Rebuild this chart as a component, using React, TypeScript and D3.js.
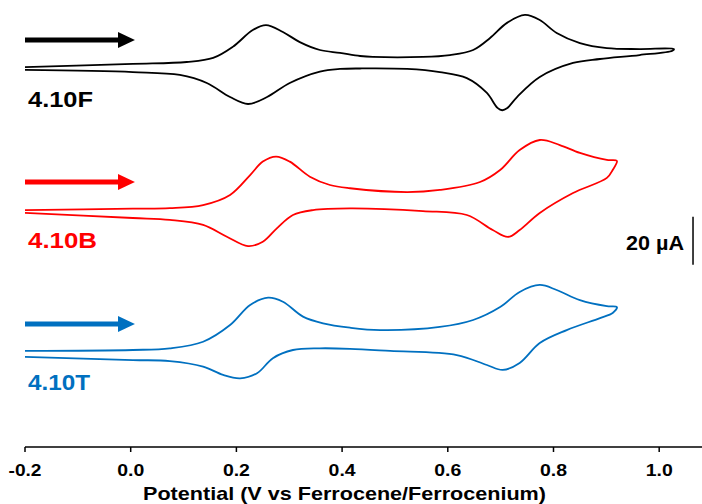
import React from "react";
import * as d3 from "d3";

// ---- Data ----
const potentialTicks = [-0.2, 0.0, 0.2, 0.4, 0.6, 0.8, 1.0];
const tickLabels = ["-0.2", "0.0", "0.2", "0.4", "0.6", "0.8", "1.0"];

const compoundLabels = ["4.10F", "4.10B", "4.10T"];
const compoundColors = ["#000000", "#ff0000", "#0070c0"];
const stackOffsets = [0, -60, -120]; // µA vertical offsets used for stacking

// 4.10F (forward scan then reverse scan), V vs Fc/Fc+ and µA
const fPotential = [
  -0.2, 0.004, 0.106, 0.156, 0.193, 0.231, 0.256, 0.288, 0.32, 0.358, 0.396, 0.434, 0.458, 0.553, 0.604, 0.648,
  0.68, 0.712, 0.746, 0.774, 0.806, 0.85, 0.901, 0.963, 1.028,
  1.025, 0.963, 0.888, 0.837, 0.774, 0.731, 0.712, 0.703, 0.694, 0.674, 0.636, 0.585, 0.523, 0.434, 0.396,
  0.358, 0.301, 0.258, 0.222, 0.188, 0.144, 0.093, 0.004, -0.2,
];
const fCurrent = [
  0.4, 1.7, 2.5, 4.2, 8.8, 15.8, 17.9, 15.0, 10.8, 7.5, 6.3, 5.0, 4.6, 4.6, 5.4, 7.5,
  12.5, 18.8, 22.1, 20.0, 14.6, 10.4, 8.3, 7.9, 7.9,
  7.2, 5.4, 3.75, 2.1, -3.75, -12.1, -16.8, -17.6, -16.6, -10.4, -4.2, -1.7, -0.4, -0.2, -0.4,
  -1.5, -6.25, -12.1, -15.0, -12.1, -6.25, -2.9, -1.7, -0.8,
];

// 4.10B
const bPotential = [
  -0.2, 0.004, 0.074, 0.137, 0.188, 0.226, 0.25, 0.275, 0.301, 0.339, 0.377, 0.415, 0.523, 0.585, 0.661, 0.699,
  0.736, 0.774, 0.812, 0.85, 0.901, 0.92,
  0.912, 0.901, 0.837, 0.774, 0.736, 0.714, 0.685, 0.636, 0.553, 0.415, 0.345, 0.307, 0.277, 0.25, 0.222,
  0.182, 0.137, 0.074, 0.004, -0.2,
];
const bCurrent = [
  0.8, 1.4, 1.6, 2.9, 7.1, 15.4, 21.0, 23.1, 21.0, 14.7, 11.25, 9.9, 8.3, 9.2, 12.5, 17.5,
  25.8, 30.0, 27.9, 24.6, 21.7, 21.3,
  17.5, 14.2, 7.9, -0.4, -7.5, -10.4, -7.5, -1.25, 0.4, 1.5, 0.8, -1.25, -6.7, -12.4, -14.2,
  -10.3, -5.4, -3.3, -2.5, -0.4,
];

// 4.10T
const tPotential = [
  -0.2, 0.004, 0.074, 0.137, 0.188, 0.226, 0.26, 0.288, 0.326, 0.364, 0.415, 0.472, 0.585, 0.648, 0.699, 0.736,
  0.774, 0.806, 0.85, 0.901, 0.92,
  0.912, 0.888, 0.825, 0.774, 0.736, 0.704, 0.674, 0.617, 0.491, 0.415, 0.358, 0.307, 0.269, 0.239, 0.207,
  0.175, 0.137, 0.074, 0.004, -0.2,
];
const tCurrent = [
  2.1, 2.5, 3.2, 5.95, 12.9, 21.25, 24.3, 22.6, 16.4, 13.6, 11.8, 10.8, 12.1, 15.0, 20.4, 26.7,
  29.6, 27.5, 23.3, 20.8, 20.4,
  17.9, 15.8, 10.8, 5.4, -2.9, -5.8, -3.75, 0.4, 2.1, 3.0, 3.2, 2.5, -0.9, -7.2, -9.3,
  -7.9, -4.4, -2.1, -1.7, -0.4,
];

const seriesPotentials = [fPotential, bPotential, tPotential];
const seriesCurrents = [fCurrent, bCurrent, tCurrent];

// arrows (scan direction), in V and µA above each trace baseline
const arrowStart = -0.2;
const arrowShaftEnd = -0.024;
const arrowTip = 0.008;
const arrowLevels = [11.7, 12.5, 13.3];

const scaleBarValue = 20; // µA
const scaleBarTop = -62;
const scaleBarPotential = 1.064;
const axisTitle = "Potential (V vs Ferrocene/Ferrocenium)";

// ---- Layout ----
const W = 702;
const H = 504;
const AXIS_Y = 447;
const FONT = "'Liberation Sans', Arial, Helvetica, sans-serif";

export default function App() {
  const x = d3.scaleLinear().domain([-0.2, 1.081]).range([25, 702]);
  const y = d3.scaleLinear().domain([30, -160]).range([-4, 452]);

  const line = d3
    .line<[number, number]>()
    .x((d) => x(d[0]))
    .y((d) => y(d[1]))
    .curve(d3.curveCatmullRom.alpha(0.5));

  const labelLengths = [65, 69, 62];
  const labelBaselines = [107, 248, 390];

  return (
    <svg
      width={W}
      height={H}
      style={{ position: "absolute", left: 0, top: 0, background: "#fff" }}
      fontFamily={FONT}
    >
      <rect x={0} y={0} width={W} height={H} fill="#fff" />
      {seriesPotentials.map((pots, i) => {
        const pts: [number, number][] = pots.map((v, k) => [v, seriesCurrents[i][k] + stackOffsets[i]]);
        const ay = y(arrowLevels[i] + stackOffsets[i]);
        const ht = 8;
        return (
          <g key={i}>
            <path d={line(pts) || ""} fill="none" stroke={compoundColors[i]} strokeWidth={1.8} strokeLinejoin="round" />
            <line x1={x(arrowStart)} x2={x(arrowShaftEnd) + 1} y1={ay} y2={ay} stroke={compoundColors[i]} strokeWidth={5} />
            <path
              d={`M${x(arrowShaftEnd)},${ay - ht}L${x(arrowTip)},${ay}L${x(arrowShaftEnd)},${ay + ht}Z`}
              fill={compoundColors[i]}
            />
            <text
              x={28}
              y={labelBaselines[i]}
              fontSize={22}
              fontWeight="bold"
              fill={compoundColors[i]}
              textLength={labelLengths[i]}
              lengthAdjust="spacingAndGlyphs"
            >
              {compoundLabels[i]}
            </text>
          </g>
        );
      })}

      {/* scale bar */}
      <line
        x1={x(scaleBarPotential)}
        x2={x(scaleBarPotential)}
        y1={y(scaleBarTop)}
        y2={y(scaleBarTop - scaleBarValue)}
        stroke="#000"
        strokeWidth={1.5}
      />
      <text
        x={x(scaleBarPotential) - 9}
        y={250}
        textAnchor="end"
        fontSize={20}
        fontWeight="bold"
        textLength={58}
        lengthAdjust="spacingAndGlyphs"
      >
        {`${scaleBarValue} µA`}
      </text>

      {/* x axis */}
      <line x1={x(-0.2)} x2={x(1.081)} y1={AXIS_Y} y2={AXIS_Y} stroke="#000" strokeWidth={1.5} />
      {potentialTicks.map((t, i) => (
        <g key={t}>
          <line x1={x(t)} x2={x(t)} y1={AXIS_Y} y2={AXIS_Y + 5} stroke="#000" strokeWidth={1.5} />
          <text
            x={x(t)}
            y={476}
            textAnchor="middle"
            fontSize={16}
            fontWeight="bold"
            textLength={tickLabels[i].length === 4 ? 33 : 27}
            lengthAdjust="spacingAndGlyphs"
          >
            {tickLabels[i]}
          </text>
        </g>
      ))}
      <text
        x={344.5}
        y={500}
        textAnchor="middle"
        fontSize={18.5}
        fontWeight="bold"
        textLength={403}
        lengthAdjust="spacingAndGlyphs"
      >
        {axisTitle}
      </text>
    </svg>
  );
}
